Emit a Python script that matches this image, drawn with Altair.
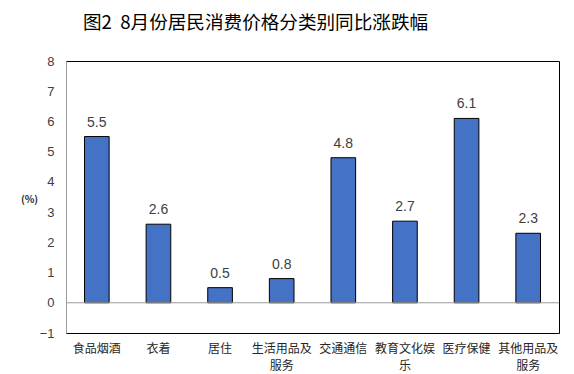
import altair as alt
import pandas as pd

categories = ["食品烟酒", "衣着", "居住", "生活用品及服务", "交通通信", "教育文化娱乐", "医疗保健", "其他用品及服务"]
values = [5.5, 2.6, 0.5, 0.8, 4.8, 2.7, 6.1, 2.3]
y_ticks = [-1, 0, 1, 2, 3, 4, 5, 6, 7, 8]

df = pd.DataFrame({"cat": categories, "val": values})
FONT = "Noto Sans CJK SC"
W, H = 493, 272

x_axis = alt.Axis(title=None, labelAngle=0, ticks=False, domain=False,
                  labelFont=FONT, labelFontSize=12, labelColor="#262626",
                  labelPadding=10, labelLineHeight=17,
                  labelExpr="length(datum.label) > 5 ? [substring(datum.label,0,5), substring(datum.label,5)] : datum.label")
y_axis = alt.Axis(values=y_ticks, grid=False, ticks=False, domain=True,
                  domainColor="#9a9a9a", labelFont="Liberation Sans",
                  labelFontSize=13, labelColor="#404040", labelPadding=12,
                  labelOverlap=False,
                  title="(%)", titleAngle=0, titleFont=FONT, titleFontSize=10,
                  titleFontWeight="bold", titleColor="#262626",
                  titleX=-37, titleY=138, titleAlign="center", titleBaseline="middle")
x_scale = alt.Scale(paddingInner=0.6, paddingOuter=0.3)
y_scale = alt.Scale(domain=[-1, 8], nice=False)

bars = alt.Chart(df).mark_bar(color="#4472C4", stroke="#000000", strokeWidth=1).encode(
    x=alt.X("cat:N", sort=categories, scale=x_scale, axis=x_axis),
    y=alt.Y("val:Q", scale=y_scale, axis=y_axis))
labels = alt.Chart(df).mark_text(dy=-14, baseline="middle", font="Liberation Sans",
                                 fontSize=14, color="#404040").encode(
    x=alt.X("cat:N", sort=categories, scale=x_scale, axis=x_axis),
    y=alt.Y("val:Q", scale=y_scale, axis=y_axis),
    text=alt.Text("val:Q", format=".1f"))
zero = alt.Chart(pd.DataFrame({"val": [0]})).mark_rule(color="#9a9a9a", strokeWidth=1).encode(
    y=alt.Y("val:Q", scale=y_scale, axis=y_axis))

chart = alt.layer(bars, zero, labels).properties(
    width=W, height=H,
    padding={"left": 12, "top": 6, "right": 5, "bottom": 5},
    title=alt.TitleParams("图2\u00a0\u00a08月份居民消费价格分类别同比涨跌幅", font=FONT, fontSize=18.6,
                          fontWeight="normal", color="#000000", anchor="start", dx=17,
                          offset=22, frame="group"),
).configure(background="white", view=alt.ViewConfig(stroke="#000000", strokeWidth=1))

chart.save("out.html", embed_options={"renderer": "svg", "actions": False})
